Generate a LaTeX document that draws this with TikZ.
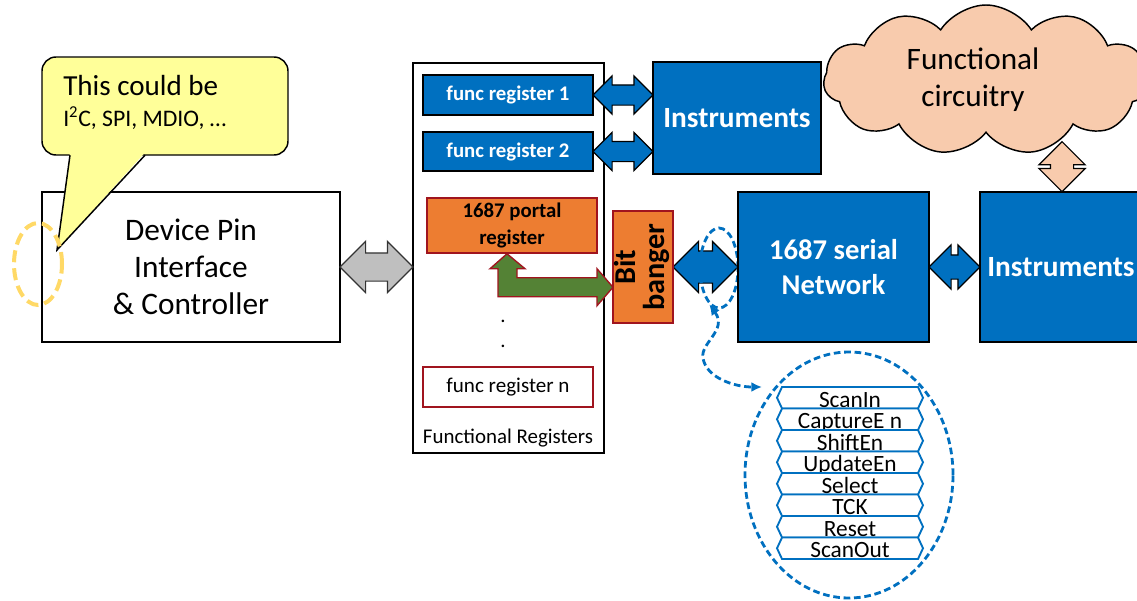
\documentclass[tikz,border=0pt]{standalone}
\usepackage{fontspec}
\setmainfont{Carlito}
\usepackage{graphicx}
\usetikzlibrary{shapes.geometric,shapes.arrows,shapes.symbols,calc,arrows.meta}
\definecolor{boxblue}{RGB}{0,112,192}
\definecolor{orng}{RGB}{237,125,49}
\definecolor{dred}{RGB}{160,20,30}
\definecolor{grn}{RGB}{84,130,53}
\definecolor{peach}{RGB}{248,203,173}
\definecolor{callyel}{RGB}{255,255,153}
\definecolor{ringgold}{RGB}{255,217,102}
\definecolor{grayarr}{RGB}{191,191,191}
\newcommand{\fsz}[2]{\fontsize{#1}{#2}\selectfont}
\pgfdeclarelayer{back}
\pgfsetlayers{back,main}
\begin{document}
\begin{tikzpicture}[x=0.75pt,y=-0.75pt,
  bluebox/.style={draw=black, line width=1.1pt, fill=boxblue, text=white, inner sep=0pt, align=center},
  orbox/.style={draw=dred, line width=1.1pt, fill=orng, text=black, inner sep=0pt, align=center},
  regbox/.style={bluebox, minimum width=170*0.75pt, font=\fsz{15.6}{18}\bfseries},
  dblarr/.style={double arrow, inner xsep=0pt, line width=0.9pt, draw=black},
  sig/.style={signal, signal to=west and east, signal pointer angle=130, draw=boxblue, line width=1.4pt, fill=white,
    minimum width=146*0.75pt, minimum height=21.5*0.75pt, inner sep=0pt, text height=15pt, text depth=1.1pt,
    font=\fsz{17.5}{20}},
  bluedash/.style={draw=boxblue, line width=2.1pt, dash pattern=on 5pt off 2.8pt}
]
\begin{pgfonlayer}{back}
\fill[white] (0,0) rectangle (1137,600);
\end{pgfonlayer}
\useasboundingbox (0,0) rectangle (1137,600);

% Functional registers block
\node[draw=black, line width=1pt, fill=white, minimum width=191*0.75pt, minimum height=390*0.75pt, inner sep=0pt] (fr) at (508.5,258) {};
\node[font=\fsz{15.7}{18}, inner sep=0pt] (frlab) at (508,438) {Functional Registers};
\node[regbox, minimum height=40*0.75pt] (fr1) at (508,95) {func register 1};
\node[regbox, minimum height=39*0.75pt] (fr2) at (508,151.5) {func register 2};
\node[orbox, minimum width=170*0.75pt, minimum height=55*0.75pt, font=\fsz{15.6}{20}\bfseries] (portal) at (512,225.5) {1687 portal\\register};
\node[font=\fsz{15.7}{18.75}, align=center, inner sep=0pt] (dots) at (503,334) {.\\.};
\node[draw=dred, line width=1pt, fill=white, minimum width=170*0.75pt, minimum height=40*0.75pt, inner sep=0pt, font=\fsz{15.8}{18}] (frn) at (508,387) {func register n};

% Device pin block
\node[draw=black, line width=1.1pt, fill=white, minimum width=298*0.75pt, minimum height=150*0.75pt, inner sep=0pt,
  font=\fsz{23.5}{27.75}, align=center] (devpin) at (191,267) {Device Pin\\Interface\\\& Controller};
\path (devpin.east) -- (fr.west |- devpin.east) node[midway, dblarr, fill=grayarr, draw=black!80,
  minimum height=73*0.75pt, inner ysep=13.5*0.75pt, double arrow head extend=11.5*0.75pt] (grayarrow) {};

% Callout
\node[draw=black, line width=1.1pt, fill=callyel, rounded corners=14*0.75pt, minimum width=246*0.75pt, minimum height=98*0.75pt, inner sep=0pt] (callout) at (165,106) {};
\coordinate (tip) at (57,250);
\fill[callyel] (70,152.5) -- (tip) -- (145,152.5) -- cycle;
\draw[line width=1.1pt, line join=miter] (70,155.2) -- (tip) -- (145,155.2);
\node[anchor=base west, font=\fsz{21.8}{26}, inner sep=0pt] (ct1) at (63,95) {This could be};
\node[anchor=base west, font=\fsz{17.8}{21}, inner sep=0pt] (ct2) at (63,126) {I\textsuperscript{2}C, SPI, MDIO, …};
\node[ellipse, draw=ringgold, line width=3pt, dash pattern=on 9pt off 4.5pt, minimum width=48*0.75pt, minimum height=82*0.75pt, inner sep=0pt] (pinring) at (38,264) {};

% Instruments (top)
\node[bluebox, minimum width=168*0.75pt, minimum height=112*0.75pt, font=\fsz{22}{26}\bfseries] (inst) at (737,118) {Instruments};
\path (fr1.east) -- (fr1.east -| inst.west) node[midway, dblarr, fill=boxblue,
  minimum height=60*0.75pt, inner ysep=9.5*0.75pt, double arrow head extend=9*0.75pt] (arr1) {};
\path (fr2.east) -- (fr2.east -| inst.west) node[midway, dblarr, fill=boxblue,
  minimum height=60*0.75pt, inner ysep=9.5*0.75pt, double arrow head extend=9*0.75pt] (arr2) {};

% Bit banger
\node[orbox, minimum width=60*0.75pt, minimum height=112*0.75pt, font=\fsz{22.7}{20}\bfseries] (bit) at (643,267)
  {\rotatebox{90}{\begin{tabular}{@{}c@{}}Bit\\banger\end{tabular}}};
\draw[draw=dred, line width=1pt, fill=grn, line join=miter] ($(portal.south)+(-5,0)$) -- ++(18,15) -- ++(-8,0) -- ++(0,9)
  -- ++(80,0) -- ++(0,-9) -- ++(16,18.5) -- ++(-16,18.5) -- ++(0,-9) -- ++(-99,0) -- ++(0,-28) -- ++(-8,0) -- cycle;

% serial network
\node[ellipse, bluedash, minimum width=38*0.75pt, minimum height=80*0.75pt, inner sep=0pt] (tap) at (719,268) {};
\node[bluebox, minimum width=191*0.75pt, minimum height=150*0.75pt, font=\fsz{21.5}{26}\bfseries] (net) at (833.5,267) {1687 serial\\Network};
\begin{pgfonlayer}{back}
\path (bit.east) -- (bit.east -| net.west) node[midway, dblarr, fill=boxblue,
  minimum height=65*0.75pt, inner ysep=15.5*0.75pt, double arrow head extend=9.5*0.75pt] (arr3) {};
\end{pgfonlayer}

% Instruments (right)
\node[bluebox, minimum width=162*0.75pt, minimum height=150*0.75pt, font=\fsz{22}{26}\bfseries] (inst2) at (1061,267) {Instruments};
\path (net.east) -- (net.east -| inst2.west) node[midway, dblarr, fill=boxblue,
  minimum height=51*0.75pt, inner ysep=11.5*0.75pt, double arrow head extend=10*0.75pt] (arr4) {};

% Cloud
\node[cloud, cloud puffs=11, cloud puff arc=115, draw=black, line width=1.1pt, fill=peach,
  minimum width=325*0.75pt, minimum height=150*0.75pt, inner sep=0pt] (cloud) at (986,80) {};
\node[font=\fsz{23.4}{27.75}, align=center, inner sep=0pt] (cloudtxt) at (973,80) {Functional\\circuitry};
\coordinate (cloudbot) at (1062,142);
\path (cloudbot) -- (cloudbot |- inst2.north) node[midway, dblarr, fill=peach, rotate=90,
  minimum height=50*0.75pt, inner ysep=11*0.75pt, double arrow head extend=11.5*0.75pt] (arr5) {};

% Signals
\coordinate (sigpt) at (762,387);
\draw[bluedash, {Latex[length=8pt,width=7.5pt]}-{Latex[length=8pt,width=7.5pt]}] (tap.255)
  .. controls (728,330) and (700,343) .. (703,358) .. controls (706,378) and (735,387) .. (sigpt);
\node[ellipse, bluedash, minimum width=208*0.75pt, minimum height=246*0.75pt, inner sep=0pt] (sigring) at (849,475) {};
\foreach \t [count=\i] in {ScanIn,CaptureE n,ShiftEn,UpdateEn,Select,TCK,Reset,ScanOut}
  \node[sig] (sig\i) at (850,{397.75+21.5*(\i-1)}) {\t};
\end{tikzpicture}
\end{document}
